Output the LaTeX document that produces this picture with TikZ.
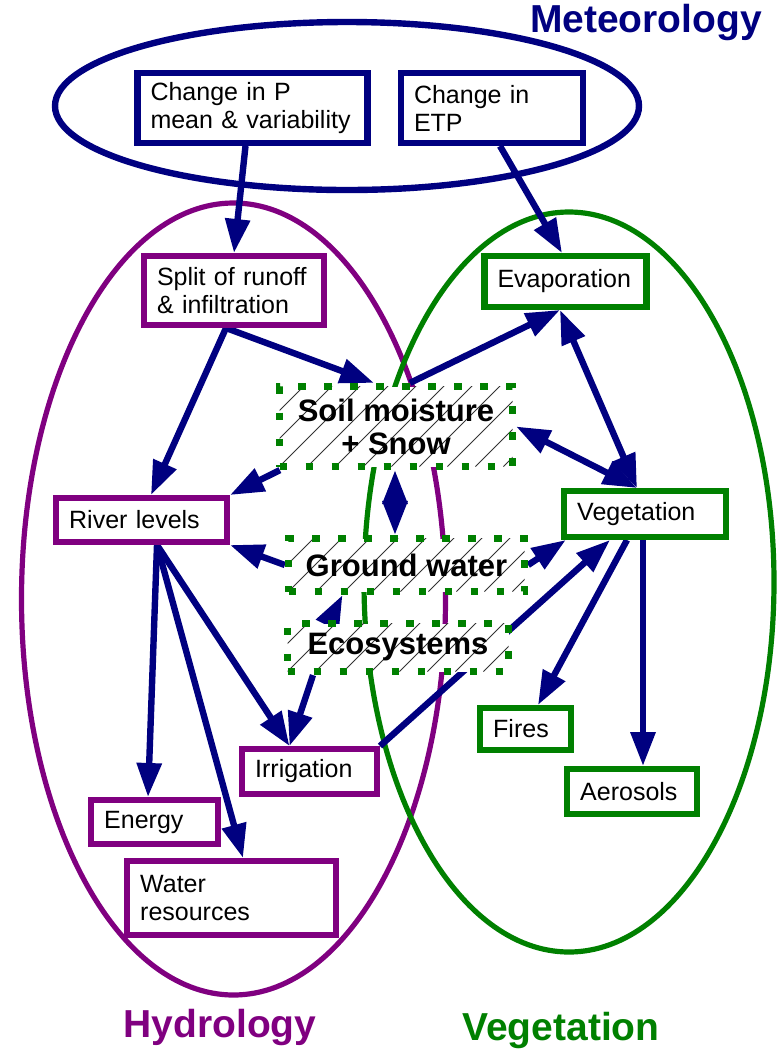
\documentclass[tikz,border=0pt]{standalone}
\usepackage{fontspec}
\setmainfont{Liberation Sans}
\usetikzlibrary{arrows.meta}
\definecolor{meteo}{RGB}{0,0,128}
\definecolor{hydro}{RGB}{128,0,128}
\definecolor{veget}{RGB}{0,128,0}
\hyphenpenalty=10000
\pgfdeclarelayer{back}
\pgfdeclarelayer{links}
\pgfsetlayers{back,links,main}

\begin{document}
\begin{tikzpicture}[x=0.5pt, y=-0.5pt,
        box/.style={rectangle, draw, line width=3.2pt, fill=white, inner xsep=6.5pt, inner ysep=0pt, align=left, font=\fontsize{12.5}{14}\selectfont},
        mbox/.style={box, draw=meteo},
        hbox/.style={box, draw=hydro},
        vbox/.style={box, draw=veget},
        store/.style={rectangle, draw=veget, line width=3.6pt, dash pattern=on 3.6pt off 9.4pt, fill=white,
            path picture={\foreach \i in {-4,...,10}
                \draw[black!80, line width=0.5pt, solid] ([xshift=\i*14pt]path picture bounding box.south west) -- ++(70pt,70pt);},
            inner sep=0pt, align=center, font=\fontsize{15.5}{16.5}\selectfont\bfseries},
        group/.style={line width=2.6pt},
        title/.style={font=\fontsize{19.5}{22}\selectfont\bfseries},
        arr/.style={draw=meteo, line width=3.2pt, -{Triangle[length=17pt, width=12pt]}},
        darr/.style={arr, {Triangle[length=17pt, width=12pt]}-{Triangle[length=17pt, width=12pt]}}
    ]
    \useasboundingbox (0,0) rectangle (780,1051);

    % titles
    \node[title, text=meteo] (metlabel) at (646,22) {Meteorology};
    \node[title, text=hydro] (hydlabel) at (220,1027) {Hydrology};
    \node[title, text=veget] (veglabel) at (561,1030) {Vegetation};

    \node[mbox, text width=102pt, minimum height=34.8pt] (chP) at (252.5,108) {Change in P\\mean \& variability};
    \node[mbox, text width=78pt, minimum height=34.8pt] (chE) at (492,108) {Change in\\ETP};
    \node[hbox, text width=77pt, minimum height=34.3pt] (split) at (234,290.5) {Split of runoff\\\& infiltration};
    \node[vbox, text width=68pt, minimum height=25.3pt] (evap) at (565.5,281.5) {Evaporation};
    \node[hbox, text width=72.3pt, minimum height=21.8pt] (river) at (141.5,520) {River levels};
    \node[vbox, text width=67.8pt, minimum height=22.8pt] (veg) at (645,514) {Vegetation};
    \node[vbox, text width=32.3pt, minimum height=20.8pt] (fires) at (525.5,729) {Fires};
    \node[vbox, text width=51.8pt, minimum height=22.3pt] (aer) at (632,791.5) {Aerosols};
    \node[hbox, text width=54.3pt, minimum height=22.3pt] (irr) at (309.5,771.5) {Irrigation};
    \node[hbox, text width=50.3pt, minimum height=21.8pt] (energy) at (154.5,822) {Energy};
    \node[hbox, text width=91.3pt, minimum height=36.8pt] (water) at (231.5,898) {Water\\resources};

    \node[store, minimum width=116.5pt, minimum height=40pt] (soil) at (396,426.5) {Soil moisture\\+ Snow};
    \node[store, minimum width=118pt, minimum height=26.5pt] (ground) at (406.5,565) {Ground water};
    \node[store, minimum width=110.5pt, minimum height=24pt] (eco) at (398,647.5) {Ecosystems};

    \begin{pgfonlayer}{back}
        \draw[group, draw=hydro] (233.5,599) ellipse [x radius=212, y radius=396];
        \draw[group, draw=veget] (569,582) ellipse [x radius=205, y radius=370];
        \draw[group, draw=meteo, line width=3.2pt] (347,106) ellipse [x radius=292, y radius=84];
    \end{pgfonlayer}

    \begin{pgfonlayer}{links}
        \draw[arr] ([xshift=-3.5pt]chP.south) -- (split.north);
        \draw[arr] ([xshift=4pt]chE.south) -- ([xshift=-1.75pt]evap.north);
        \draw[arr] ([xshift=-4pt]split.south) -- ([xshift=4.75pt]river.north);
        \draw[arr] ([xshift=-4pt]split.south) -- ([xshift=-11pt]soil.north);
        \draw[arr] ([xshift=7pt]soil.north) -- ([xshift=-2.75pt]evap.south);
        \draw[darr] ([xshift=-2.75pt]evap.south) -- ([xshift=-4pt]veg.north);
        \draw[darr] (soil.east) -- ([xshift=-4pt]veg.north);
        \draw[arr] ([xshift=2pt]soil.south west) -- (river.north east);
        \draw[darr] ([xshift=-0.5pt]soil.south) -- ([xshift=-5.75pt]ground.north);
        \draw[arr] (ground.west) -- (river.south east);
        \draw[arr] (ground.east) -- ([xshift=2.4pt]veg.south west);
        \draw[arr] ([xshift=-34pt]eco.north) -- ([xshift=-32pt]ground.south);
        \draw[arr] ([xshift=-42.5pt]eco.south) -- ([xshift=-10pt]irr.north);
        \draw[arr] ([xshift=7.75pt]river.south) -- ([xshift=-3.25pt]energy.north);
        \draw[arr] ([xshift=7.75pt]river.south) -- ([xshift=5.75pt]water.north);
        \draw[arr] ([xshift=7.75pt]river.south) -- ([xshift=-10pt]irr.north);
        \draw[arr] (irr.north east) -- ([xshift=-17.5pt]veg.south);
        \draw[arr] ([xshift=-9pt]veg.south) -- ([xshift=6.25pt]fires.north);
        \draw[arr] ([xshift=-1pt]veg.south) -- ([xshift=5.5pt]aer.north);
    \end{pgfonlayer}
\end{tikzpicture}
\end{document}
